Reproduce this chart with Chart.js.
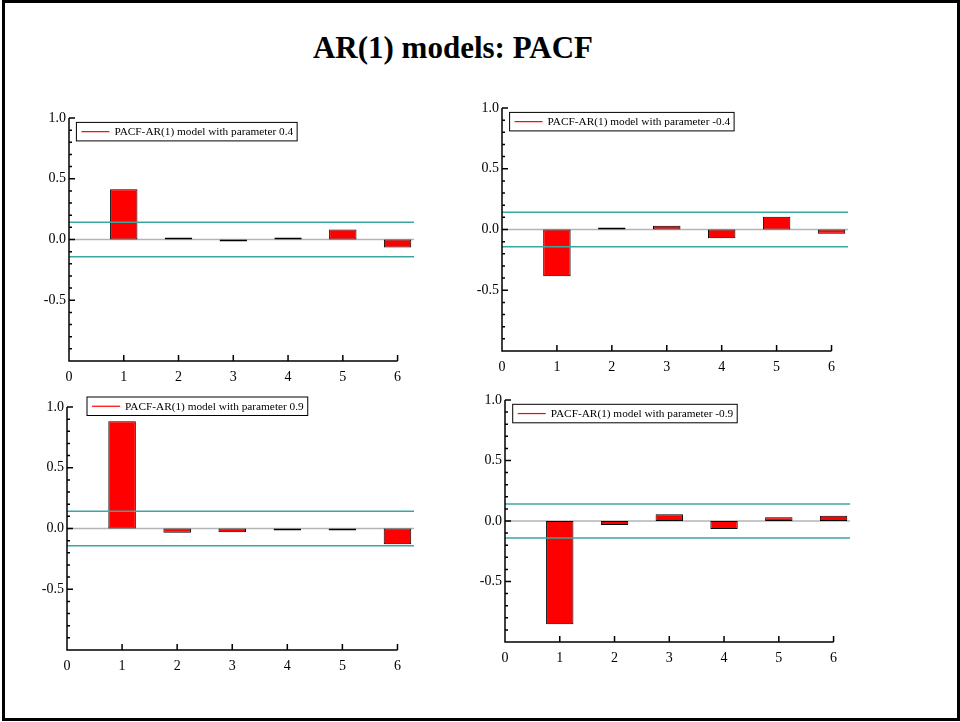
<!DOCTYPE html>
<html>
<head>
<meta charset="utf-8">
<script src="https://cdn.jsdelivr.net/npm/chart.js@4.4.0/dist/chart.umd.min.js"></script>
<style>
  html, body { margin: 0; padding: 0; background: #fff; }
  #page { position: relative; width: 960px; height: 722px; overflow: hidden; }
  #frame { position: absolute; left: 2px; top: 0; width: 958px; height: 721px; box-sizing: border-box; border: 3px solid #000; }
  #title { position: absolute; left: 0; top: 30px; width: 906px; text-align: center; line-height: 31px;
           font: bold 31px 'Liberation Serif', 'Times New Roman', serif; color: #000; }
  canvas { position: absolute; }
</style>
</head>
<body>
<div id="page">
  <div id="frame"></div>
  <div id="title">AR(1) models: PACF</div>
  <canvas id="c1"></canvas>
  <canvas id="c2"></canvas>
  <canvas id="c3"></canvas>
  <canvas id="c4"></canvas>
</div>
<script>
// ========== DATA ==========
const lags = [1, 2, 3, 4, 5, 6];
const pacfPos04 = [0.413, 0.004, -0.004, 0.011, 0.083, -0.066];
const pacfNeg04 = [-0.384, 0.005, 0.030, -0.071, 0.104, -0.036];
const pacfPos09 = [0.882, -0.036, -0.030, -0.016, -0.004, -0.130];
const pacfNeg09 = [-0.854, -0.033, 0.055, -0.066, 0.030, 0.044];
const confBand = 0.1414;   // +/- 2/sqrt(T)

const xTicks = [0, 1, 2, 3, 4, 5, 6];
const yTicks = [-0.5, 0.0, 0.5, 1.0];
const yMinorTicks = [-0.9, -0.8, -0.7, -0.6, -0.4, -0.3, -0.2, -0.1, 0.1, 0.2, 0.3, 0.4, 0.6, 0.7, 0.8, 0.9];
const xMax = 6.3;  // reference lines run a little past the last lag

// ========== PANEL LAYOUT ==========
const panels = [
  { id: 'c1', label: 'PACF-AR(1) model with parameter 0.4',  values: pacfPos04, x0: 69.3,  unit: 54.83, yTop: 118.3, yBottom: 361,   legendDx: 7.4,  legendDy: 4.4 },
  { id: 'c2', label: 'PACF-AR(1) model with parameter -0.4', values: pacfNeg04, x0: 501.7, unit: 54.88, yTop: 108.3, yBottom: 351,   legendDx: 7.6,  legendDy: 4.4 },
  { id: 'c3', label: 'PACF-AR(1) model with parameter 0.9',  values: pacfPos09, x0: 66.7,  unit: 55.0,  yTop: 406.7, yBottom: 650,   legendDx: 20,   legendDy: -10 },
  { id: 'c4', label: 'PACF-AR(1) model with parameter -0.9', values: pacfNeg09, x0: 505,   unit: 54.7,  yTop: 400,   yBottom: 642.3, legendDx: 7.7,  legendDy: 4.3 }
];
const padL = 50, padT = 24, padR = 8, padB = 34;
const serif = "'Liberation Serif', 'Times New Roman', serif";
const teal = '#3aa6a0';

// ========== AXES, TICK MARKS AND LEGEND ==========
const pacfAxes = {
  id: 'pacfAxes',
  afterDraw(chart, args, opts) {
    const { ctx, scales: { x, y } } = chart;
    const left = x.getPixelForValue(0), right = x.getPixelForValue(6);
    const top = y.getPixelForValue(1), bottom = y.getPixelForValue(-1);
    ctx.save();
    ctx.strokeStyle = '#000';
    ctx.lineWidth = 1.5;
    ctx.beginPath();
    ctx.moveTo(left, top);
    ctx.lineTo(left, bottom);
    ctx.lineTo(right, bottom);
    yTicks.forEach(v => { const py = y.getPixelForValue(v); ctx.moveTo(left, py); ctx.lineTo(left + 6, py); });
    yMinorTicks.forEach(v => { const py = y.getPixelForValue(v); ctx.moveTo(left, py); ctx.lineTo(left + 3, py); });
    xTicks.slice(1).forEach(v => { const px = x.getPixelForValue(v); ctx.moveTo(px, bottom); ctx.lineTo(px, bottom - 6); });
    ctx.stroke();

    // legend box
    ctx.font = '11.3px ' + serif;
    const label = chart.data.datasets[1].label;
    const tw = ctx.measureText(label).width;
    const bx = left + opts.dx, by = top + opts.dy, bw = 5 + 28 + 5 + tw + 4, bh = 18.5;
    ctx.fillStyle = '#fff';
    ctx.fillRect(bx, by, bw, bh);
    ctx.lineWidth = 1;
    ctx.strokeRect(bx, by, bw, bh);
    ctx.strokeStyle = '#ff0000';
    ctx.lineWidth = 1.2;
    ctx.beginPath();
    ctx.moveTo(bx + 5, by + bh / 2);
    ctx.lineTo(bx + 33, by + bh / 2);
    ctx.stroke();
    ctx.fillStyle = '#000';
    ctx.textBaseline = 'middle';
    ctx.fillText(label, bx + 38, by + bh / 2 + 0.5);
    ctx.restore();
  }
};

// ========== BUILD CHARTS ==========
panels.forEach(p => {
  const canvas = document.getElementById(p.id);
  const w = padL + xMax * p.unit + padR;
  const h = padT + (p.yBottom - p.yTop) + padB;
  canvas.width = Math.round(w);
  canvas.height = Math.round(h);
  canvas.style.left = (p.x0 - padL) + 'px';
  canvas.style.top = (p.yTop - padT) + 'px';

  new Chart(canvas, {
    type: 'bar',
    data: {
      datasets: [
        {
          type: 'line',
          data: [{ x: 0, y: 0 }, { x: xMax, y: 0 }],
          borderColor: '#b4b4b4',
          borderWidth: 1.5,
          pointRadius: 0,
          order: 3
        },
        {
          type: 'bar',
          label: p.label,
          data: lags.map((l, i) => ({ x: l, y: p.values[i] })),
          backgroundColor: '#ff0000',
          borderColor: '#000',
          borderWidth: 1,
          borderSkipped: false,
          minBarLength: 2,
          barPercentage: 0.5,
          categoryPercentage: 1,
          order: 2
        },
        {
          type: 'line',
          data: [{ x: 0, y: confBand }, { x: xMax, y: confBand }],
          borderColor: teal,
          borderWidth: 1.5,
          pointRadius: 0,
          order: 1
        },
        {
          type: 'line',
          data: [{ x: 0, y: -confBand }, { x: xMax, y: -confBand }],
          borderColor: teal,
          borderWidth: 1.5,
          pointRadius: 0,
          order: 1
        }
      ]
    },
    options: {
      responsive: false,
      animation: false,
      layout: { padding: { left: 0, top: padT, right: padR, bottom: 0 } },
      plugins: {
        legend: { display: false },
        tooltip: { enabled: false },
        pacfAxes: { dx: p.legendDx, dy: p.legendDy }
      },
      scales: {
        x: {
          type: 'linear',
          min: 0,
          max: xMax,
          offset: false,
          grid: { display: false, drawTicks: false },
          border: { display: false },
          afterBuildTicks: s => { s.ticks = xTicks.map(v => ({ value: v })); },
          afterFit: s => { s.height = padB; },
          ticks: {
            color: '#000',
            font: { family: serif, size: 14 },
            padding: 8,
            maxRotation: 0,
            autoSkip: false,
            callback: v => String(v)
          }
        },
        y: {
          type: 'linear',
          min: -1,
          max: 1,
          grid: { display: false, drawTicks: false },
          border: { display: false },
          afterBuildTicks: s => { s.ticks = yTicks.map(v => ({ value: v })); },
          afterFit: s => { s.width = padL; },
          ticks: {
            color: '#000',
            font: { family: serif, size: 14 },
            padding: 3,
            callback: v => v.toFixed(1)
          }
        }
      }
    },
    plugins: [pacfAxes]
  });
});
</script>
</body>
</html>
